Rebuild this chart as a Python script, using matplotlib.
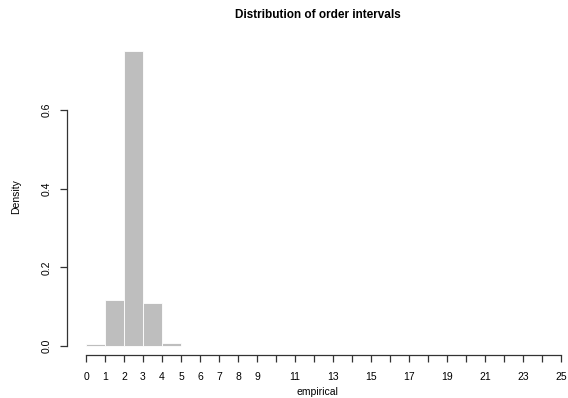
import matplotlib
matplotlib.use("Agg")
import matplotlib.pyplot as plt

# histogram of order intervals (density per unit bin)
bin_edges = list(range(0, 26))
densities = [0.004, 0.117, 0.750, 0.109, 0.008, 0.001] + [0.0] * 19
tick_values = list(range(0, 26))
tick_labels = [str(v) if (v <= 9 or v % 2 == 1) else "" for v in tick_values]
y_ticks = [0.0, 0.2, 0.4, 0.6]

plt.rcParams["font.family"] = ["Liberation Sans", "DejaVu Sans"]

fig = plt.figure(figsize=(5.68, 3.98), dpi=100)
ax = fig.add_axes([0.118, 0.108, 0.882, 0.794])

lefts = bin_edges[:-1]
widths = [b - a for a, b in zip(bin_edges[:-1], bin_edges[1:])]
ax.bar(lefts, densities, width=widths, align="edge",
       color="#bebebe", edgecolor="white", linewidth=0.6)

ax.set_xlim(-1, 25.37)
ax.set_ylim(-0.0229, 0.781)

for s in ["top", "right"]:
    ax.spines[s].set_visible(False)
ax.spines["left"].set_bounds(0, 0.6)
ax.spines["bottom"].set_bounds(0, 25)
for s in ["left", "bottom"]:
    ax.spines[s].set_linewidth(0.9)
    ax.spines[s].set_color("#333333")

ax.set_xticks(tick_values)
ax.set_xticklabels(tick_labels)
ax.set_yticks(y_ticks)
ax.set_yticklabels(["0.0", "0.2", "0.4", "0.6"], rotation=90, va="center")
ax.tick_params(axis="both", length=5, width=0.9, color="#333333", labelsize=7.5)
ax.tick_params(axis="x", pad=7)
ax.tick_params(axis="y", pad=6)

ax.set_xlabel("empirical", fontsize=7.5, labelpad=4)
ax.set_ylabel("Density", fontsize=7.5, labelpad=15)
ax.set_title("Distribution of order intervals", fontsize=8.5,
             fontweight="bold", pad=15)

fig.savefig("out.png", dpi=100)
